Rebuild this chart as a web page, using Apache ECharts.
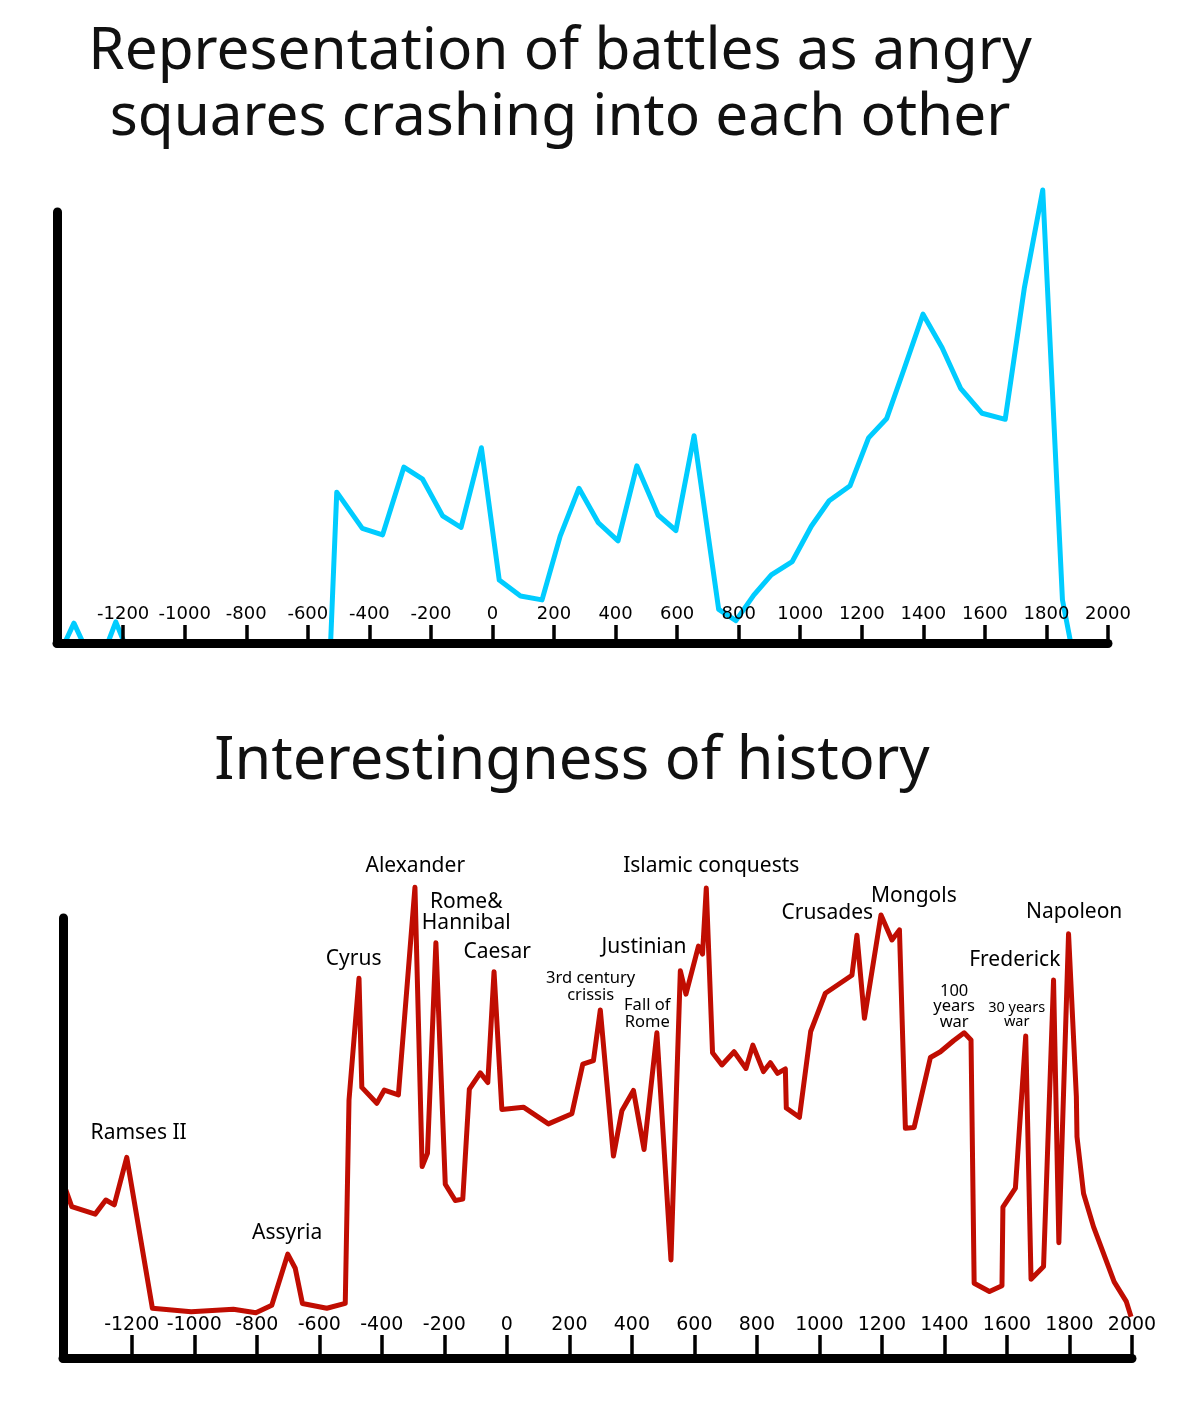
<!DOCTYPE html>
<html><head><meta charset="utf-8">
<script src="https://cdn.jsdelivr.net/npm/echarts@6/dist/echarts.min.js"></script>
<style>html,body{margin:0;padding:0;background:#fff}#c{width:1183px;height:1401px}</style>
</head><body><div id="c"></div>
<script>
const tickValues = [-1200,-1000,-800,-600,-400,-200,0,200,400,600,800,1000,1200,1400,1600,1800,2000];

const battleYears = [-1415,-1390,-1360,-1330,-1250,-1224,-1196,-526,-506,-423,-357,-288,-227,-162,-102,-36,22,91,161,220,281,344,408,469,538,596,655,735,791,849,906,974,1036,1094,1162,1222,1281,1338,1399,1461,1521,1591,1666,1728,1788,1852,1879];
const battleValues = [0,0,4.6,0,0,4.9,0,0,35.0,26.6,25.1,40.8,38.0,29.5,26.8,45.3,14.6,10.9,10.0,24.8,35.9,27.9,23.7,41.1,29.7,26.1,48.1,7.8,5.2,11.1,15.8,18.9,27.1,33.0,36.5,47.6,52.1,63.7,76.3,68.5,59.1,53.3,51.9,82.3,105.1,10.0,0];

const interestYears = [-1420,-1392,-1317,-1283,-1256,-1216,-1134,-1010,-875,-803,-752,-701,-677,-654,-576,-517,-505,-473,-464,-416,-392,-347,-294,-271,-254,-227,-197,-165,-141,-120,-85,-61,-41,-16,53,133,208,243,277,299,341,368,405,439,480,525,555,573,613,626,638,658,688,727,765,787,821,843,866,891,894,936,972,1019,1104,1120,1144,1197,1232,1256,1275,1303,1355,1387,1429,1463,1485,1495,1544,1584,1587,1627,1660,1677,1717,1749,1766,1797,1822,1824,1845,1877,1943,1982,1997];
const interestValues = [40,34.4,32.7,35.9,34.8,45.6,11.3,10.5,11.1,10.3,12.0,23.6,20.4,12.4,11.3,12.4,58.6,86.3,61.5,57.9,60.9,59.8,107.0,43.5,46.5,94.4,39.5,35.8,36.1,61.1,64.8,62.6,87.8,56.5,57.0,53.2,55.5,66.8,67.6,79.1,45.9,56.2,60.8,47.4,73.9,22.3,88.0,82.7,93.6,91.8,106.8,69.4,66.6,69.6,65.8,71.1,65.1,67.1,64.7,65.7,56.8,54.7,74.2,82.9,87.0,96.1,77.2,100.7,95.0,97.3,52.2,52.4,68.3,69.6,72.1,73.9,72.3,17.0,15.1,16.4,34.3,38.6,73.2,17.9,20.8,85.9,26.2,96.4,59.4,50.3,37.4,29.8,17.3,12.8,9.4];

const eventNames = ['Ramses II','Assyria','Cyrus','Alexander','Rome&\nHannibal','Caesar','3rd century\ncrissis','Fall of\nRome','Justinian','Islamic conquests','Crusades','Mongols','Frederick','100\nyears\nwar','30 years\nwar','Napoleon'];
const eventYears = [-1178,-703,-490,-293,-130,-31,268,449,439,654,1025,1302,1625,1431,1631,1815];
const eventValues = [51.1,28.4,90.7,111.8,101.3,92.3,84.4,78.3,93.4,111.8,101.1,105,90.5,79.9,78,101.4];

const labelFont = 'Noto Sans';
const smallStyles = {
  '3rd century\ncrissis': {fontSize: 16.5, lineHeight: 17},
  'Fall of\nRome': {fontSize: 16.5, lineHeight: 17},
  '100\nyears\nwar': {fontSize: 16.5, lineHeight: 15.5},
  '30 years\nwar': {fontSize: 14.5, lineHeight: 14},
  'Rome&\nHannibal': {fontSize: 21, lineHeight: 21}
};

function pairs(xs, ys) { return xs.map((x, i) => [x, ys[i]]); }

const axisBlack = '#000';
function makeXAxis(grid, min, tickLen, fontSize, margin) {
  return {
    type: 'value', gridIndex: grid, min: min, max: 2000, z: 10,
    axisLine: {show: true, onZero: false, lineStyle: {color: axisBlack, width: 9, cap: 'round'}},
    axisTick: {show: true, inside: true, length: tickLen, customValues: tickValues, lineStyle: {color: axisBlack, width: 3.5}},
    axisLabel: {show: true, inside: true, margin: margin, customValues: tickValues, formatter: v => String(v),
      color: '#000', fontFamily: 'DejaVu Sans', fontSize: fontSize},
    splitLine: {show: false}
  };
}
function makeYAxis(grid) {
  return {
    type: 'value', gridIndex: grid, min: 0, max: 100, z: 10,
    axisLine: {show: true, onZero: false, lineStyle: {color: axisBlack, width: 9, cap: 'round'}},
    axisTick: {show: false}, axisLabel: {show: false}, splitLine: {show: false}
  };
}

const chart = echarts.init(document.getElementById('c'), null, {renderer: 'canvas'});
chart.setOption({
  backgroundColor: '#fff',
  animation: false,
  title: [
    {text: 'Representation of battles as angry\nsquares crashing into each other', left: 560, top: 19, padding: 0, textAlign: 'center',
     textStyle: {fontFamily: labelFont, fontSize: 58.5, fontWeight: 'normal', color: '#111', lineHeight: 66}},
    {text: 'Interestingness of history', left: 572, top: 729, padding: 0, textAlign: 'center',
     textStyle: {fontFamily: labelFont, fontSize: 59.5, fontWeight: 'normal', color: '#111', lineHeight: 66}}
  ],
  grid: [
    {left: 57, top: 212, width: 1051, height: 431, outerBoundsMode: 'none', containLabel: false},
    {left: 63, top: 918, width: 1069, height: 440, outerBoundsMode: 'none', containLabel: false}
  ],
  xAxis: [makeXAxis(0, -1415, 18, 18, 20), makeXAxis(1, -1420, 23, 19, 23)],
  yAxis: [makeYAxis(0), makeYAxis(1)],
  series: [
    {type: 'line', xAxisIndex: 0, yAxisIndex: 0, data: pairs(battleYears, battleValues), symbol: 'none', clip: false, z: 2,
     lineStyle: {color: '#00CCFF', width: 5, join: 'round'}},
    {type: 'line', xAxisIndex: 1, yAxisIndex: 1, data: pairs(interestYears, interestValues), symbol: 'none', clip: false, z: 2,
     lineStyle: {color: '#C00D02', width: 5, join: 'round'}},
    {type: 'scatter', xAxisIndex: 1, yAxisIndex: 1, clip: false, symbolSize: 1, z: 3,
     itemStyle: {color: 'rgba(0,0,0,0)'},
     data: eventNames.map((n, i) => {
       const s = smallStyles[n] || {fontSize: 21, lineHeight: 24};
       return {value: [eventYears[i], eventValues[i]], name: n,
         label: {show: true, position: 'inside', formatter: n, align: 'center', verticalAlign: 'middle', opacity: 1,
           color: '#000', textBorderWidth: 0, fontFamily: labelFont, fontSize: s.fontSize, lineHeight: s.lineHeight}};
     })}
  ]
});
</script></body></html>
